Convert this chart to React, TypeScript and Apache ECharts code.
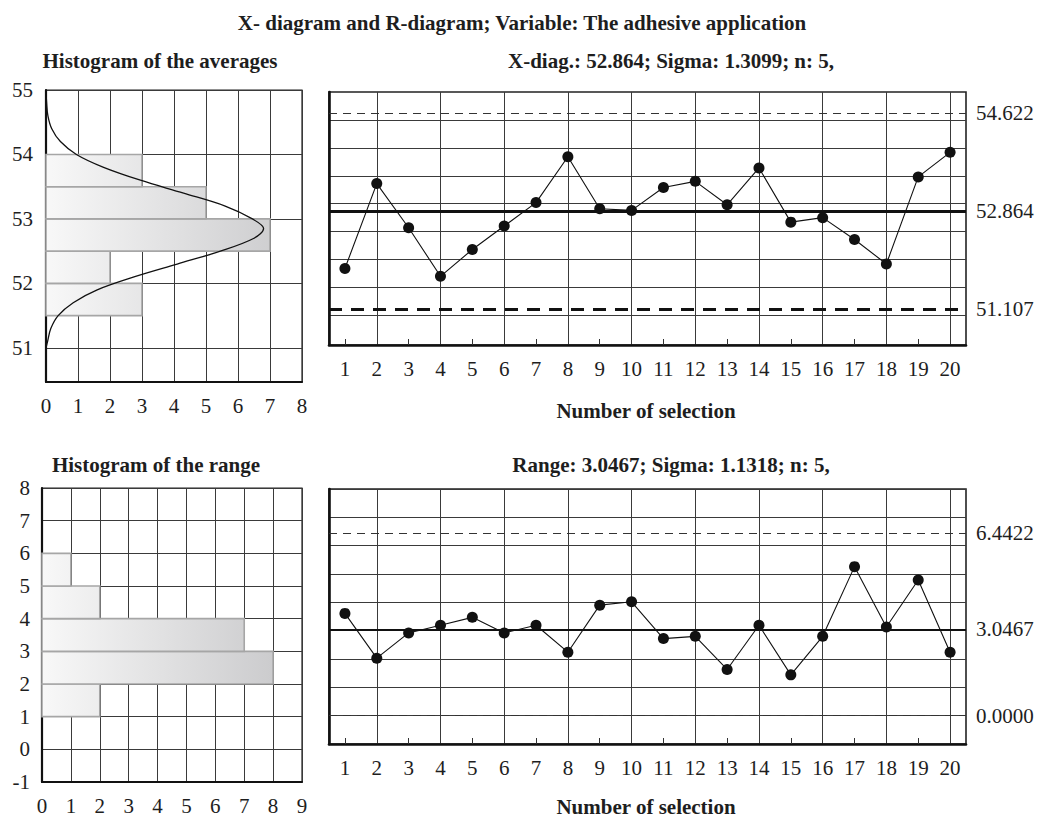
import React, { useEffect, useRef } from "react";
import * as echarts from "echarts";

const FONT = '"Liberation Serif", "Times New Roman", serif';
const INK = "#1e1e1e";
const GRID_LINE = "#3a3a3a";

// Sample numbers (subgroups) along the control charts
const sampleNumbers = [1, 2, 3, 4, 5, 6, 7, 8, 9, 10, 11, 12, 13, 14, 15, 16, 17, 18, 19, 20];
const oddSamples = [1, 3, 5, 7, 9, 11, 13, 15, 17, 19];
const evenSamples = [2, 4, 6, 8, 10, 12, 14, 16, 18, 20];

// Subgroup averages
const xbarValues = [51.84, 53.36, 52.57, 51.7, 52.18, 52.6, 53.02, 53.84, 52.91, 52.88, 53.29, 53.4, 52.98, 53.64, 52.67, 52.75, 52.36, 51.92, 53.48, 53.92];
// Subgroup ranges
const rangeValues = [3.61, 2.03, 2.92, 3.19, 3.47, 2.92, 3.19, 2.24, 3.9, 4.02, 2.72, 2.8, 1.63, 3.19, 1.44, 2.8, 5.26, 3.13, 4.79, 2.24];

// Control limits
const xbarCenter = 52.864;
const xbarUpper = 54.622;
const xbarLower = 51.107;
const xbarSigma = 1.3099;
const rangeCenter = 3.0467;
const rangeUpper = 6.4422;
const rangeLower = 0;
const rangeSigma = 1.1318;
const sampleSize = 5;

// Histogram of the averages
const avgBinLow = [51.5, 52, 52.5, 53, 53.5];
const avgBinHigh = [52, 52.5, 53, 53.5, 54];
const avgBinCount = [3, 2, 7, 5, 3];
const avgLevelTicks = [51, 52, 53, 54, 55];
const avgAxisMin = 50.47;
const avgAxisMax = 55;
const xbarGridLevels = [51, 51.5, 52, 52.5, 53, 53.5, 54, 54.5];

// Fitted normal curve over the averages histogram (level, expected count)
const curveLevel = [51.0, 51.1, 51.3, 51.5, 51.7, 51.9, 52.1, 52.3, 52.5, 52.7, 52.85, 53.0, 53.2, 53.4, 53.6, 53.8, 54.0, 54.2, 54.4, 54.6, 54.8, 55.0];
const curveCount = [0, 0.05, 0.15, 0.38, 0.85, 1.6, 2.75, 4.1, 5.45, 6.5, 6.8, 6.45, 5.6, 4.3, 2.95, 1.8, 0.95, 0.45, 0.18, 0.06, 0.02, 0];

// Histogram of the ranges
const rangeBinLow = [1, 2, 3, 4, 5];
const rangeBinHigh = [2, 3, 4, 5, 6];
const rangeBinCount = [2, 8, 7, 2, 1];

const labelStyle = { fontFamily: FONT, fontSize: 21, color: INK };

function histogramRenderer(gradientEnd: number) {
  return (_params: any, api: any) => {
    const lo = api.value(0);
    const hi = api.value(1);
    const n = api.value(2);
    const topLeft = api.coord([0, hi]);
    const bottomRight = api.coord([n, lo]);
    const g0 = api.coord([0, lo]);
    const g1 = api.coord([gradientEnd, lo]);
    return {
      type: "rect",
      shape: {
        x: topLeft[0],
        y: topLeft[1],
        width: bottomRight[0] - topLeft[0],
        height: bottomRight[1] - topLeft[1],
      },
      style: {
        fill: new echarts.graphic.LinearGradient(
          g0[0], 0, g1[0], 0,
          [
            { offset: 0, color: "#f8f8f8" },
            { offset: 1, color: "#c9c9cb" },
          ],
          true
        ),
        stroke: "#a6a6a6",
        lineWidth: 1.6,
      },
    };
  };
}

function splitStyle(show: boolean) {
  return { show, lineStyle: { color: GRID_LINE, width: 1 } };
}

function thickLine(width: number) {
  return { show: true, onZero: false, lineStyle: { color: "#111", width } };
}

function titleText(text: string, x: number, y: number) {
  return {
    type: "text",
    x,
    y,
    silent: true,
    style: {
      text,
      font: `bold 21px ${FONT}`,
      fill: INK,
      textAlign: "center",
      align: "center",
      textVerticalAlign: "middle",
      verticalAlign: "middle",
    },
  };
}

function buildOption() {
  const xbarSubtitle = `X-diag.: ${xbarCenter.toFixed(3)}; Sigma: ${xbarSigma.toFixed(4)}; n: ${sampleSize},`;
  const rangeSubtitle = `Range: ${rangeCenter.toFixed(4)}; Sigma: ${rangeSigma.toFixed(4)}; n: ${sampleSize},`;

  return {
    animation: false,
    backgroundColor: "#ffffff",
    textStyle: { fontFamily: FONT },
    graphic: [
      titleText("X- diagram and R-diagram; Variable: The adhesive application", 522, 23),
      titleText("Histogram of the averages", 160, 61),
      titleText(xbarSubtitle, 671, 61),
      titleText("Number of selection", 646, 411),
      titleText("Histogram of the range", 156, 465),
      titleText(rangeSubtitle, 671, 465),
      titleText("Number of selection", 646, 807),
    ],
    grid: [
      { left: 46, top: 90, width: 256, height: 292, show: true, borderColor: "#222", borderWidth: 1.2 },
      { left: 329, top: 92, width: 637, height: 253, show: true, borderColor: "#222", borderWidth: 1.6 },
      { left: 42, top: 488, width: 260, height: 294, show: true, borderColor: "#222", borderWidth: 1.2 },
      { left: 329, top: 489, width: 637, height: 255, show: true, borderColor: "#222", borderWidth: 1.6 },
    ],
    xAxis: [
      {
        type: "value", gridIndex: 0, min: 0, max: 8, interval: 1,
        axisLine: thickLine(2.2), axisTick: { show: false },
        axisLabel: { ...labelStyle, margin: 13 },
        splitLine: splitStyle(true),
      },
      {
        type: "value", gridIndex: 1, min: 0.5, max: 20.5,
        axisLine: thickLine(2.6),
        axisTick: { show: true, inside: true, length: 6, customValues: oddSamples, lineStyle: { color: "#333", width: 1 } },
        axisLabel: { ...labelStyle, margin: 13, customValues: sampleNumbers },
        splitLine: splitStyle(false),
      },
      {
        type: "value", gridIndex: 1, min: 0.5, max: 20.5,
        axisLine: { show: false },
        axisTick: { show: false, customValues: evenSamples },
        axisLabel: { show: false },
        splitLine: splitStyle(true),
      },
      {
        type: "value", gridIndex: 2, min: 0, max: 9, interval: 1,
        axisLine: thickLine(2.2), axisTick: { show: false },
        axisLabel: { ...labelStyle, margin: 13 },
        splitLine: splitStyle(true),
      },
      {
        type: "value", gridIndex: 3, min: 0.5, max: 20.5,
        axisLine: thickLine(2.6),
        axisTick: { show: true, inside: true, length: 6, customValues: oddSamples, lineStyle: { color: "#333", width: 1 } },
        axisLabel: { ...labelStyle, margin: 13, customValues: sampleNumbers },
        splitLine: splitStyle(false),
      },
      {
        type: "value", gridIndex: 3, min: 0.5, max: 20.5,
        axisLine: { show: false },
        axisTick: { show: false, customValues: evenSamples },
        axisLabel: { show: false },
        splitLine: splitStyle(true),
      },
    ],
    yAxis: [
      {
        type: "value", gridIndex: 0, min: avgAxisMin, max: avgAxisMax,
        axisLine: thickLine(2.2),
        axisTick: { show: false, customValues: avgLevelTicks },
        axisLabel: { ...labelStyle, margin: 13, customValues: avgLevelTicks },
        splitLine: splitStyle(true),
      },
      {
        type: "value", gridIndex: 1, min: avgAxisMin, max: avgAxisMax,
        axisLine: thickLine(2.6),
        axisTick: { show: false, customValues: xbarGridLevels },
        axisLabel: { show: false },
        splitLine: splitStyle(true),
      },
      {
        type: "value", gridIndex: 1, min: avgAxisMin, max: avgAxisMax, position: "right",
        axisLine: { show: false },
        axisTick: { show: false, customValues: [xbarLower, xbarCenter, xbarUpper] },
        axisLabel: {
          ...labelStyle, margin: 10,
          customValues: [xbarLower, xbarCenter, xbarUpper],
          formatter: (v: number) => v.toFixed(3),
        },
        splitLine: splitStyle(false),
      },
      {
        type: "value", gridIndex: 2, min: -1, max: 8, interval: 1,
        axisLine: thickLine(2.2), axisTick: { show: false },
        axisLabel: { ...labelStyle, margin: 12 },
        splitLine: splitStyle(true),
      },
      {
        type: "value", gridIndex: 3, min: -1, max: 8, interval: 1,
        axisLine: thickLine(2.6), axisTick: { show: false },
        axisLabel: { show: false },
        splitLine: splitStyle(true),
      },
      {
        type: "value", gridIndex: 3, min: -1, max: 8, position: "right",
        axisLine: { show: false },
        axisTick: { show: false, customValues: [rangeLower, rangeCenter, rangeUpper] },
        axisLabel: {
          ...labelStyle, margin: 10,
          customValues: [rangeLower, rangeCenter, rangeUpper],
          formatter: (v: number) => v.toFixed(4),
        },
        splitLine: splitStyle(false),
      },
    ],
    series: [
      {
        type: "custom",
        xAxisIndex: 0, yAxisIndex: 0,
        dimensions: ["low", "high", "count"],
        encode: { x: 2, y: [0, 1] },
        data: avgBinLow.map((lo, i) => [lo, avgBinHigh[i], avgBinCount[i]]),
        renderItem: histogramRenderer(8),
        silent: true,
        z: 2,
      },
      {
        type: "line",
        xAxisIndex: 0, yAxisIndex: 0,
        data: curveLevel.map((lv, i) => [curveCount[i], lv]),
        smooth: 0.35,
        showSymbol: false,
        symbol: "none",
        lineStyle: { color: "#111", width: 1.3 },
        silent: true,
        z: 3,
      },
      {
        type: "line",
        xAxisIndex: 1, yAxisIndex: 1,
        data: sampleNumbers.map((s, i) => [s, xbarValues[i]]),
        symbol: "circle",
        symbolSize: 11,
        itemStyle: { color: "#111" },
        lineStyle: { color: "#111", width: 1.1 },
        silent: true,
        z: 5,
        markLine: {
          silent: true,
          symbol: ["none", "none"],
          label: { show: false },
          data: [
            { yAxis: xbarUpper, lineStyle: { color: "#333", width: 1, type: [8, 6] } },
            { yAxis: xbarCenter, lineStyle: { color: "#111", width: 3, type: "solid" } },
            { yAxis: xbarLower, lineStyle: { color: "#111", width: 3, type: [13, 9] } },
          ],
        },
      },
      {
        type: "custom",
        xAxisIndex: 3, yAxisIndex: 3,
        dimensions: ["low", "high", "count"],
        encode: { x: 2, y: [0, 1] },
        data: rangeBinLow.map((lo, i) => [lo, rangeBinHigh[i], rangeBinCount[i]]),
        renderItem: histogramRenderer(8.5),
        silent: true,
        z: 2,
      },
      {
        type: "line",
        xAxisIndex: 4, yAxisIndex: 4,
        data: sampleNumbers.map((s, i) => [s, rangeValues[i]]),
        symbol: "circle",
        symbolSize: 11,
        itemStyle: { color: "#111" },
        lineStyle: { color: "#111", width: 1.1 },
        silent: true,
        z: 5,
        markLine: {
          silent: true,
          symbol: ["none", "none"],
          label: { show: false },
          data: [
            { yAxis: rangeUpper, lineStyle: { color: "#333", width: 1, type: [8, 6] } },
            { yAxis: rangeCenter, lineStyle: { color: "#111", width: 2, type: "solid" } },
            { yAxis: rangeLower, lineStyle: { color: "#333", width: 1, type: [8, 6] } },
          ],
        },
      },
    ],
  };
}

export default function App() {
  const ref = useRef<HTMLDivElement>(null);

  useEffect(() => {
    if (!ref.current) return;
    const chart = echarts.init(ref.current, undefined, { renderer: "svg" });
    chart.setOption(buildOption() as any);
    return () => chart.dispose();
  }, []);

  return (
    <div
      ref={ref}
      style={{ position: "fixed", left: 0, top: 0, width: 1042, height: 818, background: "#fff" }}
    />
  );
}
